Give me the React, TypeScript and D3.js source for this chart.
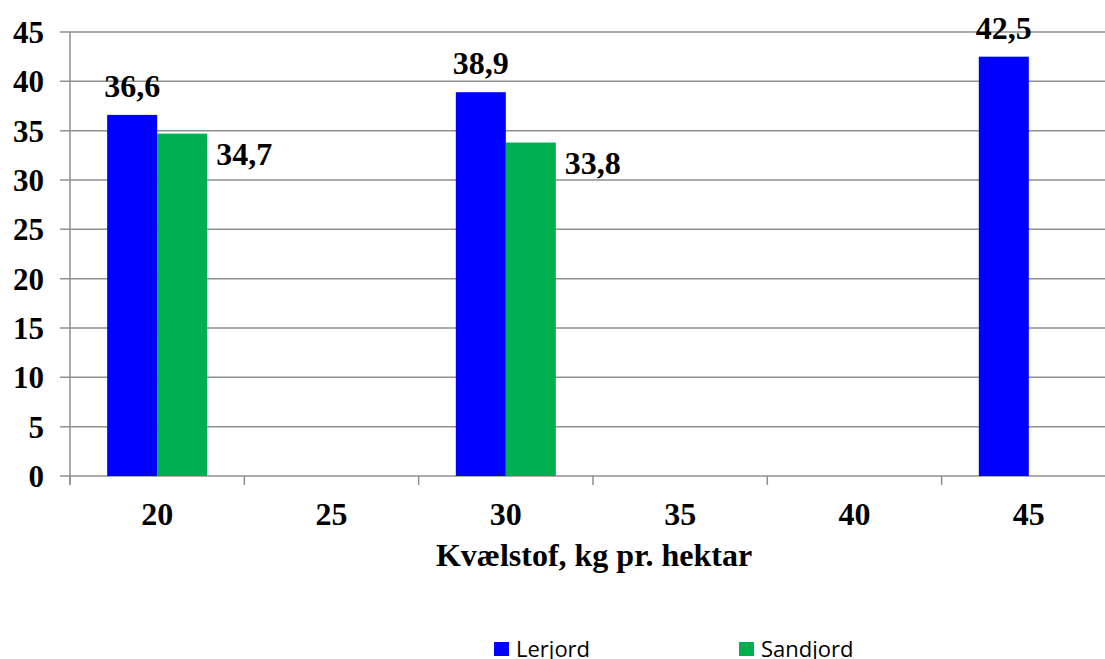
import React from "react";
import * as d3 from "d3";

const categories = ["20", "25", "30", "35", "40", "45"];
const seriesNames = ["Lerjord", "Sandjord"];
const lerjord: (number | null)[] = [36.6, null, 38.9, null, null, 42.5];
const sandjord: (number | null)[] = [34.7, null, 33.8, null, null, null];
const yTicks = [0, 5, 10, 15, 20, 25, 30, 35, 40, 45];
const colors = ["#0000FF", "#00B050"];
const xTitle = "Kvælstof, kg pr. hektar";

const W = 1105;
const H = 659;

export default function App() {
  const left = 70;
  const step = 174.33;
  const x = d3.scaleBand<string>().domain(categories).range([left, left + step * categories.length]).padding(0);
  const xs = d3.scaleBand<string>().domain(seriesNames).range([0, x.bandwidth()]).paddingInner(0).paddingOuter(0.743);
  const y = d3.scaleLinear().domain([0, 45]).range([476, 32]);
  const series = [lerjord, sandjord];
  const fmt = (v: number) => v.toFixed(1).replace(".", ",");
  const serif = "'Liberation Serif', 'Times New Roman', serif";
  const grid = "#8f8f8f";

  return (
    <svg width={W} height={H} style={{ position: "absolute", left: 0, top: 0, background: "#fff" }}>
      {yTicks.map((t) => (
        <g key={t}>
          <line x1={60} x2={W} y1={y(t)} y2={y(t)} stroke={grid} strokeWidth={1.5} />
          <text x={44} y={y(t)} dy="0.35em" textAnchor="end" fontFamily={serif} fontWeight="bold" fontSize={31} fill="#000">
            {t}
          </text>
        </g>
      ))}
      <line x1={left} x2={left} y1={y(45)} y2={y(0) + 9} stroke={grid} strokeWidth={1.5} />
      {categories.map((c) => (
        <line key={"t" + c} x1={x(c)!} x2={x(c)!} y1={y(0)} y2={y(0) + 9} stroke={grid} strokeWidth={1.5} />
      ))}
      {series.map((s, si) =>
        s.map((v, i) =>
          v == null ? null : (
            <rect
              key={si + "-" + i}
              x={x(categories[i])! + xs(seriesNames[si])!}
              y={y(v)}
              width={xs.bandwidth()}
              height={y(0) - y(v)}
              fill={colors[si]}
            />
          )
        )
      )}
      {series.map((s, si) =>
        s.map((v, i) => {
          if (v == null) return null;
          const bx = x(categories[i])! + xs(seriesNames[si])!;
          if (si === 0) {
            return (
              <text key={"l" + si + i} x={bx + xs.bandwidth() / 2} y={y(v) - 18} textAnchor="middle" fontFamily={serif} fontWeight="bold" fontSize={32} fill="#000">
                {fmt(v)}
              </text>
            );
          }
          return (
            <text key={"l" + si + i} x={bx + xs.bandwidth() + 9} y={y(v) + 31} textAnchor="start" fontFamily={serif} fontWeight="bold" fontSize={32} fill="#000">
              {fmt(v)}
            </text>
          );
        })
      )}
      {categories.map((c) => (
        <text key={"x" + c} x={x(c)! + x.bandwidth() / 2} y={525} textAnchor="middle" fontFamily={serif} fontWeight="bold" fontSize={32} fill="#000">
          {c}
        </text>
      ))}
      <text x={594} y={566} textAnchor="middle" fontFamily={serif} fontWeight="bold" fontSize={32} fill="#000">
        {xTitle}
      </text>
      {seriesNames.map((n, i) => {
        const lx = i === 0 ? 494 : 739;
        return (
          <g key={n}>
            <rect x={lx} y={642} width={15} height={14} fill={colors[i]} />
            <text x={lx + 22} y={657} fontFamily="'Open Sans', sans-serif" fontSize={22} fill="#000">
              {n}
            </text>
          </g>
        );
      })}
    </svg>
  );
}
